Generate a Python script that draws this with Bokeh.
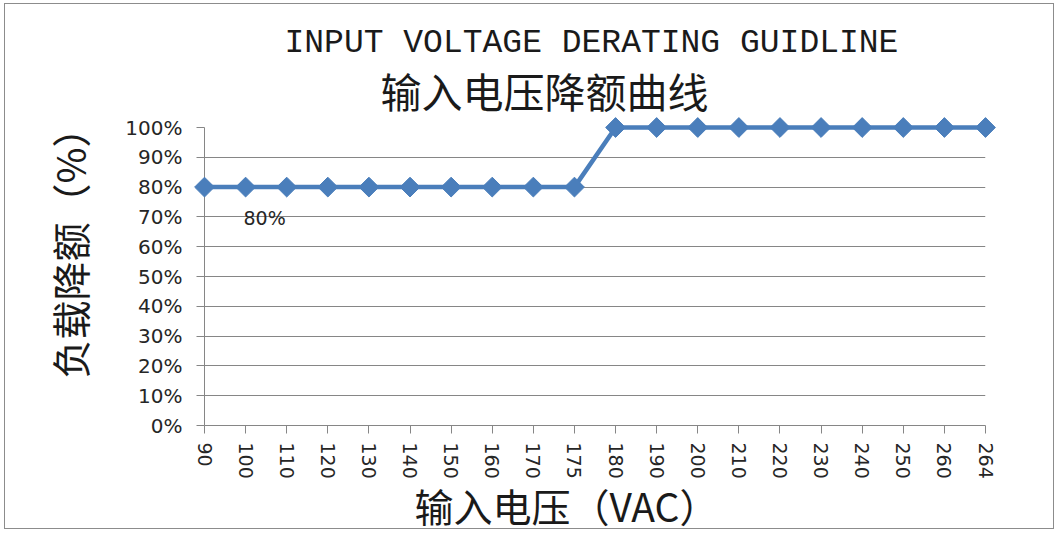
from math import pi
from bokeh.plotting import figure
from bokeh.models import Label, FixedTicker, Range1d, Title
from bokeh.embed import file_html
from bokeh.resources import INLINE

# ---- data ----
voltages = ["90", "100", "110", "120", "130", "140", "150", "160", "170", "175",
            "180", "190", "200", "210", "220", "230", "240", "250", "260", "264"]
derating = [80, 80, 80, 80, 80, 80, 80, 80, 80, 80,
            100, 100, 100, 100, 100, 100, 100, 100, 100, 100]
y_ticks = [0, 10, 20, 30, 40, 50, 60, 70, 80, 90, 100]
y_tick_labels = ["0%", "10%", "20%", "30%", "40%", "50%", "60%", "70%", "80%", "90%", "100%"]
title_en = "INPUT VOLTAGE DERATING  GUIDLINE"
title_cn = "输入电压降额曲线"
x_title = "输入电压（VAC）"
y_title = "负载降额（%）"
point_label = "80%"
point_label_index = 1

xs = list(range(len(voltages)))

W, H = 1050, 526
OX, OY = 5, 4  # canvas origin on the page (border + margin)
p = figure(width=W, height=H, output_backend="svg", toolbar_location=None,
           x_range=Range1d(0, len(voltages) - 1), y_range=Range1d(0, 100),
           min_border_left=204 - OX, min_border_right=W - (985 - OX),
           min_border_top=127 - OY, min_border_bottom=H - (425 - OY))
p.outline_line_color = None
p.background_fill_color = "white"
p.border_fill_color = "white"
p.styles = {"border": "1px solid #8c8c8c", "margin": "3px 0 0 4px"}

axis_col = "#868686"
txt_col = "#262626"
# y axis
p.yaxis.ticker = FixedTicker(ticks=y_ticks)
p.yaxis.major_label_overrides = dict(zip(y_ticks, y_tick_labels))
p.yaxis.axis_line_color = axis_col
p.yaxis.major_tick_line_color = axis_col
p.yaxis.major_tick_out = 8
p.yaxis.major_tick_in = 0
p.yaxis.minor_tick_line_color = None
p.yaxis.major_label_text_font = "DejaVu Sans"
p.yaxis.major_label_text_font_size = "20px"
p.yaxis.major_label_text_color = txt_col
p.yaxis.major_label_standoff = 14

# x axis
p.xaxis.ticker = FixedTicker(ticks=xs)
p.xaxis.major_label_overrides = {i: v for i, v in zip(xs, voltages)}
p.xaxis.major_label_orientation = "vertical"
p.xaxis.axis_line_color = axis_col
p.xaxis.major_tick_line_color = axis_col
p.xaxis.major_tick_out = 8
p.xaxis.major_tick_in = 0
p.xaxis.minor_tick_line_color = None
p.xaxis.major_label_text_font = "DejaVu Sans"
p.xaxis.major_label_text_font_size = "19px"
p.xaxis.major_label_text_color = txt_col
p.xaxis.major_label_standoff = 9

p.xgrid.grid_line_color = None
p.ygrid.grid_line_color = axis_col
p.ygrid.grid_line_width = 1.2

blue = "#4A7EBB"
p.line(xs, derating, line_color=blue, line_width=4.5, level="overlay")
p.scatter(xs, derating, marker="square", angle=pi / 4, size=14,
          fill_color=blue, line_color=blue, level="overlay")

p.add_layout(Label(x=xs[point_label_index], y=derating[point_label_index], text=point_label,
                   text_font="DejaVu Sans", text_font_size="19px", text_color=txt_col,
                   text_align="center", text_baseline="middle",
                   x_offset=19, y_offset=-31))

# titles (later added = further from the frame)
p.add_layout(Title(text=title_cn, align="left", offset=383 - 204 - 3,
                   text_font="Noto Sans CJK SC", text_font_size="41px",
                   text_font_style="normal", text_color="#1a1a1a", standoff=16), "above")
p.add_layout(Title(text=title_en, align="left", offset=287 - 204 - 3,
                   text_font="Liberation Mono", text_font_size="33px",
                   text_font_style="normal", text_color="#1a1a1a", standoff=-25), "above")
p.add_layout(Title(text=x_title, align="left", offset=417 - 204 - 3,
                   text_font="Noto Sans CJK SC", text_font_size="39px",
                   text_font_style="normal", text_color="#1a1a1a", standoff=-13), "below")
p.add_layout(Title(text=y_title, align="right", offset=-19, vertical_align="top",
                   text_font="Noto Sans CJK SC", text_font_size="39px",
                   text_font_style="normal", text_color="#1a1a1a", standoff=48), "left")

open("out.html", "w").write(file_html(p, INLINE))
